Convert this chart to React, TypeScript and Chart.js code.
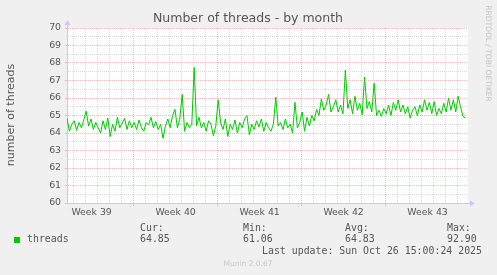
import React, { useEffect, useRef } from 'react';
import { Chart, registerables } from 'chart.js';

Chart.register(...registerables);

// x is measured in days from Mon Sep 29 2025 00:00 (start of Week 40)
const X_MIN = -5.55;
const X_MAX = 27.87;
const START_DAY = -5.55;
const STEP_DAYS = 0.2;

const threads: number[] = [
  // Week 39
  64.85, 64.1, 64.5, 64.7, 64.15, 64.6, 64.3, 64.75, 65.25, 64.4,
  64.8, 64.2, 64.6, 64.3, 64.0, 64.7, 64.2, 64.85, 63.8, 64.5,
  64.1, 64.9, 64.3, 64.55, 64.85, 64.2, 64.7, 64.3,
  // Week 40
  64.6, 64.2, 64.75, 64.3, 64.1, 64.6, 64.45, 64.9, 64.3, 64.65,
  64.2, 64.5, 63.7, 64.4, 64.8, 64.3, 65.0, 65.35, 64.3, 64.8,
  66.2, 64.1, 64.6, 64.3, 64.5, 67.75, 64.4, 64.9, 64.3,
  // Week 41
  64.6, 64.1, 64.7, 64.5, 63.85, 64.4, 65.9, 64.6, 64.2, 64.8,
  63.8, 64.5, 64.2, 64.75, 64.0, 64.6, 64.3, 64.8, 65.0, 63.9,
  64.5, 64.2, 64.7, 64.35, 64.8, 64.1, 64.6, 64.3,
  // Week 42
  64.1, 64.5, 66.05, 64.4, 64.6, 64.2, 64.8, 64.3, 64.5, 64.0,
  65.75, 64.3, 64.6, 65.2, 64.1, 64.9, 64.4, 65.0, 64.7, 65.35,
  65.0, 65.95, 65.3, 65.6, 66.2, 65.2,
  65.5, 65.9, 65.2, 65.6, 65.1, 67.6, 65.4, 65.9, 65.1, 66.1,
  65.3, 65.7, 65.05, 67.2, 65.4, 65.8, 65.2, 66.85, 65.0, 65.3,
  64.95, 65.4, 65.1, 65.6, 65.0, 65.75, 65.3, 65.9,
  // Week 43
  65.2, 65.6, 65.1, 65.5, 64.85, 65.3, 65.5, 65.0, 65.6, 65.2,
  65.9, 65.3, 65.75, 65.1, 65.8, 65.0, 65.4, 65.1, 65.7, 65.2,
  66.0, 65.3, 65.9, 65.2, 66.1, 65.5, 64.95, 64.85,
];

const weekLabels = ['Week 39', 'Week 40', 'Week 41', 'Week 42', 'Week 43'];
const weekCenters = [-3.5, 3.5, 10.5, 17.5, 24.5];
const dayTicks: number[] = [];
for (let d = -5; d <= 27; d++) dayTicks.push(d);

const yTicks = [60, 61, 62, 63, 64, 65, 66, 67, 68, 69, 70];

const chartTitle = 'Number of threads - by month';
const yTitle = 'number of threads';
const seriesName = 'threads';
const statLabels = ['Cur:', 'Min:', 'Avg:', 'Max:'];
const statValues = ['64.85', '61.06', '64.83', '92.90'];
const lastUpdate = 'Last update: Sun Oct 26 15:00:24 2025';
const watermark = 'RRDTOOL / TOBI OETIKER';
const footer = 'Munin 2.0.67';

const GREEN = '#00cc00';
const MAJOR = 'rgba(225,100,100,0.42)';
const MINOR = 'rgba(160,160,160,0.38)';
const AXIS = 'rgb(200,200,250)';
const TEXT = '#555555';

const decorPlugin = {
  id: 'decor',
  beforeDraw(chart: any) {
    const { ctx, chartArea } = chart;
    ctx.save();
    ctx.fillStyle = '#f0f0f0';
    ctx.fillRect(0, 0, chart.width, chart.height);
    ctx.fillStyle = '#ffffff';
    ctx.fillRect(chartArea.left, chartArea.top, chartArea.right - chartArea.left, chartArea.bottom - chartArea.top);
    ctx.restore();
  },
  afterDraw(chart: any) {
    const { ctx, chartArea } = chart;
    const L = chartArea.left + 0.5;
    const B = chartArea.bottom + 0.5;
    ctx.save();
    // axis arrows
    ctx.strokeStyle = AXIS;
    ctx.fillStyle = AXIS;
    ctx.lineWidth = 1;
    ctx.beginPath();
    ctx.moveTo(L, chartArea.top);
    ctx.lineTo(L, chartArea.top - 3);
    ctx.moveTo(chartArea.right, B);
    ctx.lineTo(chartArea.right + 3, B);
    ctx.stroke();
    ctx.beginPath();
    ctx.moveTo(L - 3, chartArea.top - 3);
    ctx.lineTo(L + 3, chartArea.top - 3);
    ctx.lineTo(L, chartArea.top - 8);
    ctx.closePath();
    ctx.fill();
    ctx.beginPath();
    ctx.moveTo(chartArea.right + 2, B - 3);
    ctx.lineTo(chartArea.right + 2, B + 3);
    ctx.lineTo(chartArea.right + 7, B);
    ctx.closePath();
    ctx.fill();

    // title
    ctx.fillStyle = TEXT;
    ctx.font = '12.5px "DejaVu Sans"';
    ctx.textAlign = 'center';
    ctx.textBaseline = 'middle';
    ctx.fillText(chartTitle, 248, 19);

    // y title
    ctx.save();
    ctx.translate(11, 115);
    ctx.rotate(-Math.PI / 2);
    ctx.font = '11px "DejaVu Sans"';
    ctx.fillText(yTitle, 0, 0);
    ctx.restore();

    // watermark
    ctx.save();
    ctx.translate(488, 53.5);
    ctx.rotate(Math.PI / 2);
    ctx.font = '7.5px "DejaVu Sans"';
    ctx.fillStyle = '#c4c4c4';
    ctx.fillText(watermark, 0, 0);
    ctx.restore();

    // legend
    ctx.fillStyle = GREEN;
    ctx.fillRect(14, 237, 6, 6);
    ctx.fillStyle = TEXT;
    ctx.font = '9.9px "DejaVu Sans Mono"';
    ctx.textAlign = 'left';
    ctx.fillText(seriesName, 27, 239.5);
    const statX = [140, 243, 345, 447];
    statLabels.forEach((lab, i) => {
      ctx.fillText(lab, statX[i], 228);
      ctx.fillText(statValues[i], statX[i], 239.5);
    });
    ctx.textAlign = 'right';
    ctx.fillText(lastUpdate, 482, 251.5);

    // footer
    ctx.textAlign = 'center';
    ctx.fillStyle = '#c8c8c8';
    ctx.font = '7.5px "DejaVu Sans"';
    ctx.fillText(footer, 248, 264);
    ctx.restore();
  },
};

export default function App() {
  const ref = useRef<HTMLCanvasElement | null>(null);

  useEffect(() => {
    if (!ref.current) return;
    const data = threads.map((v, i) => ({ x: START_DAY + i * STEP_DAYS, y: v }));
    const chart = new Chart(ref.current, {
      type: 'line',
      data: {
        datasets: [
          {
            label: seriesName,
            data,
            borderColor: GREEN,
            borderWidth: 1,
            pointRadius: 0,
            tension: 0,
            fill: false,
          },
        ],
      },
      options: {
        animation: false,
        responsive: false,
        devicePixelRatio: 1,
        layout: { padding: { top: 28, right: 29, bottom: 0, left: 0 } },
        plugins: {
          legend: { display: false },
          tooltip: { enabled: false },
          title: { display: false },
        },
        scales: {
          x: {
            type: 'linear',
            min: X_MIN,
            max: X_MAX,
            afterBuildTicks: (scale: any) => {
              const vals = [...dayTicks, ...weekCenters].sort((a, b) => a - b);
              scale.ticks = vals.map((v) => ({ value: v }));
            },
            afterFit: (scale: any) => {
              scale.height = 72;
            },
            ticks: {
              autoSkip: false,
              maxRotation: 0,
              minRotation: 0,
              padding: 1,
              color: TEXT,
              font: { family: 'DejaVu Sans', size: 9.33 },
              callback: (value: any) => {
                const idx = weekCenters.indexOf(Number(value));
                return idx >= 0 ? weekLabels[idx] : '';
              },
            },
            grid: {
              lineWidth: 1,
              tickLength: 3,
              color: (c: any) => {
                const v = c.tick ? c.tick.value : 0;
                if (!Number.isInteger(v)) return 'transparent';
                return v % 7 === 0 ? MAJOR : MINOR;
              },
              tickColor: (c: any) => {
                const v = c.tick ? c.tick.value : 0;
                return Number.isInteger(v) && v % 7 === 0 ? MAJOR : 'transparent';
              },
            },
            border: { display: true, color: AXIS, width: 1, dash: [1, 1] },
          },
          y: {
            type: 'linear',
            min: 60,
            max: 70,
            afterBuildTicks: (scale: any) => {
              const vals: number[] = [];
              yTicks.forEach((t, i) => {
                vals.push(t);
                if (i < yTicks.length - 1) vals.push(t + 0.5);
              });
              scale.ticks = vals.map((v) => ({ value: v }));
            },
            afterFit: (scale: any) => {
              scale.width = 67;
            },
            ticks: {
              autoSkip: false,
              padding: 4,
              color: TEXT,
              font: { family: 'DejaVu Sans', size: 9.33 },
              callback: (value: any) => (Number.isInteger(Number(value)) ? String(value) : ''),
            },
            grid: {
              lineWidth: 1,
              tickLength: 2,
              color: (c: any) => {
                const v = c.tick ? c.tick.value : 0;
                if (v === 60) return 'transparent';
                return Number.isInteger(v) ? MAJOR : MINOR;
              },
              tickColor: (c: any) => {
                const v = c.tick ? c.tick.value : 0;
                return Number.isInteger(v) ? MAJOR : 'transparent';
              },
            },
            border: { display: true, color: AXIS, width: 1, dash: [1, 1] },
          },
        },
      },
      plugins: [decorPlugin],
    } as any);
    return () => chart.destroy();
  }, []);

  return (
    <div style={{ position: 'fixed', left: 0, top: 0, width: 497, height: 275, background: '#f0f0f0' }}>
      <canvas ref={ref} width={497} height={275} style={{ display: 'block', width: 497, height: 275 }} />
    </div>
  );
}
